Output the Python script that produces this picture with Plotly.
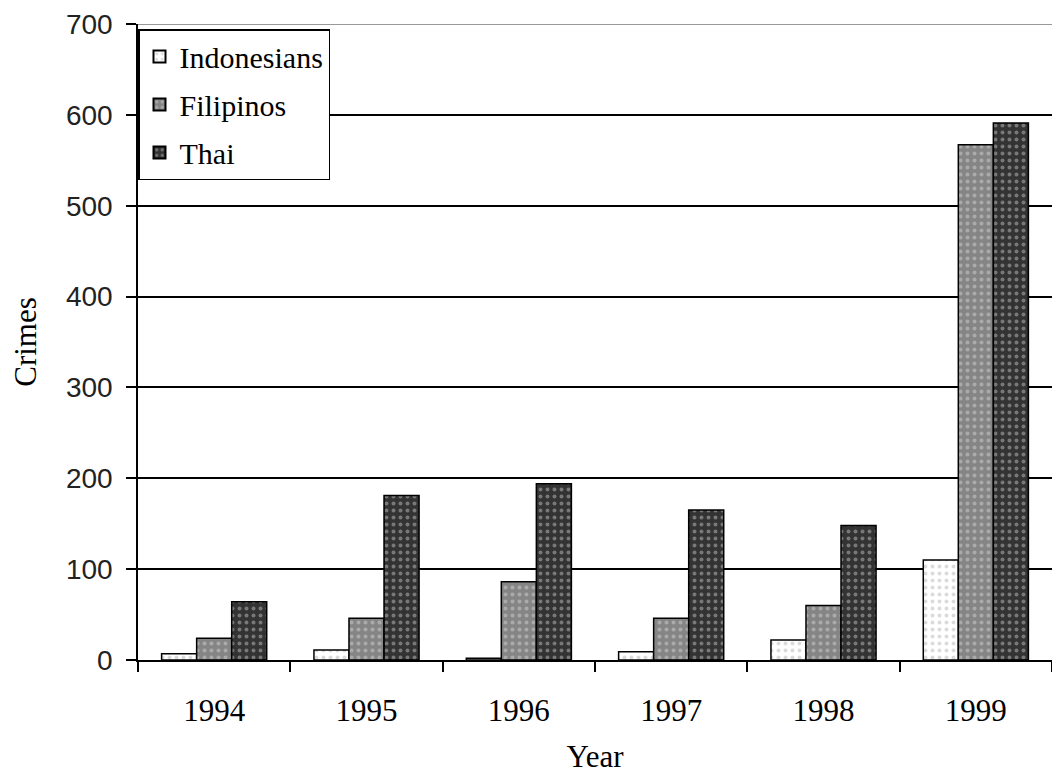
import plotly.graph_objects as go

years = ["1994", "1995", "1996", "1997", "1998", "1999"]
indonesians = [7, 11, 2, 9, 22, 110]
filipinos = [24, 46, 86, 46, 60, 567]
thai = [64, 181, 194, 165, 148, 591]

series = [
    ("Indonesians", indonesians, "#ffffff", "#b8b8b8"),
    ("Filipinos", filipinos, "#858585", "#d0d0d0"),
    ("Thai", thai, "#333333", "#bdbdbd"),
]

serif = "Liberation Serif, Times New Roman, serif"
sans = "Liberation Sans, Arial, sans-serif"

fig = go.Figure()
for name, vals, bg, fg in series:
    fig.add_trace(go.Bar(
        x=years, y=vals, name=name, legendgroup=name,
        marker=dict(
            color=bg,
            line=dict(color="#000000", width=1.5),
            pattern=dict(shape=".", bgcolor=bg, fgcolor=fg, size=7, solidity=0.25),
        ),
    ))

# light rule along the top of the value range
fig.add_shape(type="line", xref="paper", yref="y", x0=0, x1=1, y0=700, y1=700,
              line=dict(color="#999999", width=2), layer="below")

fig.update_layout(
    width=1052, height=774,
    margin=dict(l=138, r=0, t=24, b=114),
    paper_bgcolor="white", plot_bgcolor="white",
    barmode="group", bargap=0.31, bargroupgap=0,
    font=dict(family=serif, color="#000000"),
    showlegend=True,
    legend=dict(
        x=0, y=0.992, xanchor="left", yanchor="top",
        bgcolor="white", bordercolor="#000000", borderwidth=1.5,
        font=dict(family=serif, size=30, color="#000000"),
        itemsizing="constant", tracegroupgap=6, traceorder="grouped",
    ),
    xaxis=dict(
        type="category",
        tickson="boundaries", ticks="outside", ticklen=10, tickwidth=1.5, tickcolor="#000",
        showline=True, linecolor="#000", linewidth=1.5,
        showgrid=False,
        tickfont=dict(family=serif, size=31),
        ticklabelstandoff=22,
        title=dict(text="Year", font=dict(family=serif, size=31), standoff=18),
    ),
    yaxis=dict(
        range=[0, 700], dtick=100,
        ticks="outside", ticklen=10, tickwidth=1.5, tickcolor="#000",
        showline=True, linecolor="#000", linewidth=1.5,
        showgrid=True, gridcolor="#000", gridwidth=1.5,
        tickfont=dict(family=sans, size=28, color="#222222"),
        ticklabelstandoff=8,
        title=dict(text="Crimes", font=dict(family=serif, size=31), standoff=20),
    ),
)

fig.write_html("out.html")
